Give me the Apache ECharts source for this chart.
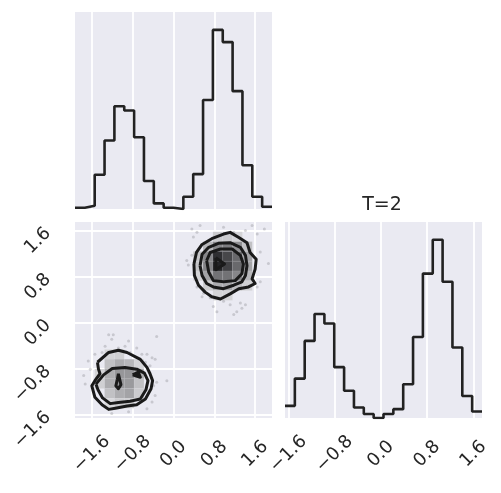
<!DOCTYPE html>
<html><head><meta charset="utf-8">
<script src="https://cdn.jsdelivr.net/npm/echarts@6/dist/echarts.min.js"></script>
<style>html,body{margin:0;padding:0;background:#fff}#c{width:501px;height:493px}</style>
</head><body><div id="c"></div>
<script>
// ---- data ----
const tickValues = [-1.6, -0.8, 0.0, 0.8, 1.6];
const rangeA = [-1.93, 1.93];   // parameter 1 range
const rangeB = [-1.66, 1.75];   // parameter 2 range (T=2)
const nBins = 20;
const histA = [4,10,104,208,312,299,218,85,17,4,0,37,106,331,544,507,358,133,37,7];
const histB = [37,120,235,317,288,155,83,32,12,0,12,27,103,247,440,543,415,215,67,20];
// 2D histogram cells: [xBin, yBin, density level]
const cells = [
  [14,18,0.15],[15,18,0.15],[16,18,0.1],
  [13,17,0.25],[14,17,0.5],[15,17,0.55],[16,17,0.45],[17,17,0.2],
  [12,16,0.18],[13,16,0.5],[14,16,0.95],[15,16,0.82],[16,16,0.65],[17,16,0.35],
  [12,15,0.18],[13,15,0.52],[14,15,1.0],[15,15,0.85],[16,15,0.65],[17,15,0.35],
  [12,14,0.1],[13,14,0.35],[14,14,0.6],[15,14,0.6],[16,14,0.5],[17,14,0.25],
  [13,13,0.15],[14,13,0.3],[15,13,0.32],[16,13,0.22],[17,13,0.12],
  [14,12,0.1],[15,12,0.1],
  [3,6,0.1],[4,6,0.12],
  [3,5,0.2],[4,5,0.3],[5,5,0.25],[6,5,0.1],
  [2,4,0.1],[3,4,0.3],[4,4,0.42],[5,4,0.42],[6,4,0.3],
  [2,3,0.12],[3,3,0.3],[4,3,0.42],[5,3,0.4],[6,3,0.2],
  [3,2,0.2],[4,2,0.3],[5,2,0.35],[6,2,0.15],
  [3,1,0.08],[4,1,0.15],[5,1,0.15]
];
// scatter points outside contours
const dots = [
  [0.36,1.63],[0.46,1.57],[0.39,1.49],[0.52,1.69],[0.98,1.66],[1.18,1.57],[1.41,1.60],[1.54,1.69],
  [1.64,1.54],[1.78,1.63],[0.26,1.08],[0.36,1.17],[0.29,1.00],[1.70,1.23],[1.86,1.03],[1.70,0.71],
  [1.64,0.62],[0.59,0.51],[0.72,0.43],[0.78,0.28],[0.85,0.19],[0.98,0.37],[1.11,0.31],[1.18,0.14],
  [1.31,0.34],[1.41,0.31],[1.34,0.25],[1.24,0.19],[0.46,0.62],[0.56,0.45],
  [-1.27,-0.21],[-1.18,-0.21],[-1.21,-0.29],[-1.34,-0.41],[-1.40,-0.52],[-1.54,-0.55],[-1.67,-0.67],
  [-1.08,-0.44],[-0.95,-0.41],[-0.88,-0.32],[-0.85,-0.52],[-0.72,-0.44],[-0.62,-0.55],[-0.52,-0.55],
  [-0.42,-0.61],[-0.36,-0.64],[-0.33,-0.24],[-0.55,-0.69],[-0.46,-0.75],[-0.39,-1.10],[-0.33,-1.04],
  [-0.13,-1.01],[-0.36,-1.27],[-0.42,-1.38],[-0.52,-1.50],[-0.88,-1.55],[-1.21,-1.58],[-1.76,-0.92],
  [-1.63,-0.81],[-1.73,-1.07]
];
// contour lines
const upperC1 = [[0.40,1.02],[0.45,1.22],[0.56,1.36],[0.75,1.46],[0.98,1.54],[1.11,1.57],[1.28,1.48],[1.44,1.39],[1.50,1.22],[1.62,1.10],[1.60,0.93],[1.54,0.76],[1.60,0.68],[1.47,0.62],[1.28,0.59],[1.11,0.50],[0.92,0.41],[0.75,0.45],[0.62,0.53],[0.49,0.65],[0.41,0.82]];
const upperC2 = [[0.52,0.99],[0.56,1.19],[0.69,1.31],[0.88,1.38],[1.11,1.39],[1.31,1.31],[1.41,1.17],[1.44,0.99],[1.41,0.82],[1.34,0.71],[1.18,0.65],[0.98,0.59],[0.78,0.62],[0.65,0.68],[0.56,0.82]];
const upperC3 = [[0.65,1.08],[0.72,1.22],[0.92,1.28],[1.15,1.28],[1.31,1.17],[1.37,1.02],[1.34,0.85],[1.21,0.73],[0.98,0.71],[0.78,0.73],[0.69,0.88]];
const upperC4 = [[0.83,1.13],[1.00,1.02],[0.83,0.92]];
const lowerC1 = [[-1.49,-0.69],[-1.27,-0.52],[-1.08,-0.48],[-0.91,-0.52],[-0.65,-0.64],[-0.52,-0.78],[-0.46,-0.89],[-0.41,-1.01],[-0.44,-1.15],[-0.55,-1.33],[-0.72,-1.43],[-0.91,-1.45],[-1.14,-1.49],[-1.27,-1.51],[-1.40,-1.43],[-1.54,-1.30],[-1.60,-1.10],[-1.54,-1.01],[-1.44,-0.89],[-1.47,-0.81]];
const lowerC2 = [[-1.52,-1.07],[-1.37,-0.91],[-1.20,-0.80],[-0.95,-0.78],[-0.72,-0.81],[-0.57,-0.88],[-0.50,-1.01],[-0.54,-1.17],[-0.65,-1.33],[-0.85,-1.37],[-1.08,-1.39],[-1.24,-1.41],[-1.39,-1.31],[-1.48,-1.17]];
const lowerC3 = [[-1.08,-0.89],[-1.03,-1.08],[-1.08,-1.15],[-1.13,-1.10],[-1.10,-0.99]];
const lowerC4 = [[-0.80,-0.91],[-0.69,-0.86],[-0.65,-0.95]];
const contours = [upperC1, upperC2, upperC3, upperC4, lowerC1, lowerC2, lowerC3, lowerC4];
const titleText = 'T=2';

// ---- build ----
const bwA = (rangeA[1] - rangeA[0]) / nBins;
const bwB = (rangeB[1] - rangeB[0]) / nBins;
function stepData(h, rng, bw) {
  const d = h.map((v, k) => [rng[0] + k * bw, v]);
  d.push([rng[1], h[h.length - 1]]);
  return d;
}
const FONT = 'DejaVu Sans';
const TXT = '#262626';
const FS = 18;
const fmt = v => (Math.abs(v) < 1e-9 ? '0.0' : v.toFixed(1).replace('-', '\u2212'));
function xAx(gi, rng, showLabel) {
  return {
    type: 'value', gridIndex: gi, min: rng[0], max: rng[1],
    axisLine: {show: false}, axisTick: {show: false, customValues: tickValues},
    axisLabel: {show: showLabel, customValues: tickValues, formatter: fmt, rotate: 45,
      align: 'center', verticalAlign: 'middle', margin: 36,
      fontSize: FS, color: TXT, fontFamily: FONT},
    splitLine: {show: true, lineStyle: {color: '#ffffff', width: 1.8}}
  };
}
const option = {
  animation: false,
  backgroundColor: '#ffffff',
  textStyle: {fontFamily: FONT, fontSize: FS},
  grid: [
    {left: 75, top: 12, width: 197, height: 197, show: true, backgroundColor: '#EAEAF2', borderWidth: 0},
    {left: 75, top: 222, width: 197, height: 196, show: true, backgroundColor: '#EAEAF2', borderWidth: 0},
    {left: 285, top: 222, width: 197, height: 196, show: true, backgroundColor: '#EAEAF2', borderWidth: 0}
  ],
  xAxis: [xAx(0, rangeA, false), xAx(1, rangeA, true), xAx(2, rangeB, true)],
  yAxis: [
    {type: 'value', gridIndex: 0, min: 0, max: 1.1 * Math.max(...histA), axisLine: {show: false}, axisTick: {show: false}, axisLabel: {show: false}, splitLine: {show: false}},
    {type: 'value', gridIndex: 1, min: rangeB[0], max: rangeB[1],
      axisLine: {show: false}, axisTick: {show: false, customValues: tickValues},
      axisLabel: {customValues: tickValues, formatter: fmt, rotate: 45, margin: 27, fontSize: FS, color: TXT, fontFamily: FONT},
      splitLine: {show: true, lineStyle: {color: '#ffffff', width: 1.8}}},
    {type: 'value', gridIndex: 2, min: 0, max: 1.1 * Math.max(...histB), axisLine: {show: false}, axisTick: {show: false}, axisLabel: {show: false}, splitLine: {show: false}}
  ],
  graphic: [{type: 'text', x: 382, y: 205, style: {text: titleText, align: 'center', verticalAlign: 'middle', fontSize: 19, fill: TXT, fontFamily: FONT}}],
  series: [
    {type: 'line', xAxisIndex: 0, yAxisIndex: 0, step: 'end', symbol: 'none', data: stepData(histA, rangeA, bwA),
      lineStyle: {color: '#222222', width: 2.6}, clip: true},
    {type: 'line', xAxisIndex: 2, yAxisIndex: 2, step: 'end', symbol: 'none', data: stepData(histB, rangeB, bwB),
      lineStyle: {color: '#222222', width: 2.6}, clip: true},
    {type: 'custom', xAxisIndex: 1, yAxisIndex: 1, data: cells, clip: true,
      renderItem: (params, api) => {
        const i = api.value(0), j = api.value(1), lev = api.value(2);
        const x0 = rangeA[0] + i * bwA, y0 = rangeB[0] + j * bwB;
        const p0 = api.coord([x0, y0 + bwB]), p1 = api.coord([x0 + bwA, y0]);
        const g = Math.round(232 - lev * 196);
        return {type: 'rect', shape: {x: p0[0], y: p0[1], width: p1[0] - p0[0], height: p1[1] - p0[1]},
          style: {fill: 'rgb(' + g + ',' + g + ',' + (g + 3) + ')', stroke: 'rgba(255,255,255,0.12)', lineWidth: 0.6}};
      }},
    {type: 'scatter', xAxisIndex: 1, yAxisIndex: 1, data: dots, symbolSize: 3,
      itemStyle: {color: 'rgba(110,110,120,0.35)'}, silent: true},
  ].concat(contours.map(c => ({
    type: 'line', xAxisIndex: 1, yAxisIndex: 1, symbol: 'none', smooth: false,
    data: c.concat([c[0]]), lineStyle: {color: '#1a1a1a', width: 3, join: 'round'}, z: 5
  })))
};
const chart = echarts.init(document.getElementById('c'), null, {renderer: 'canvas'});
chart.setOption(option);
</script>
</body></html>
